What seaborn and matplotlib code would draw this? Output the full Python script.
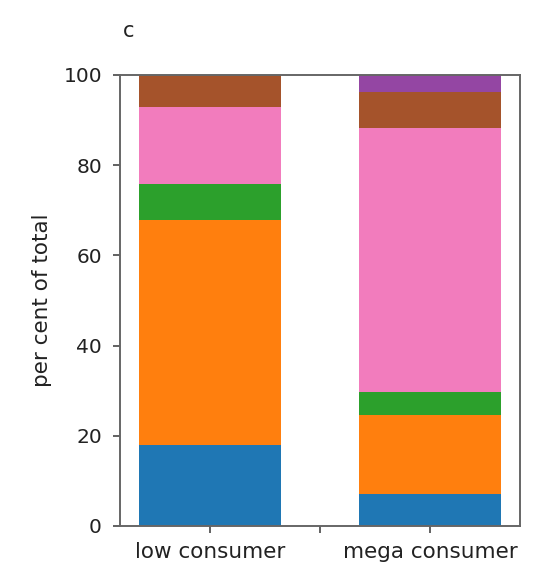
import matplotlib
matplotlib.use("Agg")
import matplotlib.pyplot as plt
import seaborn as sns
import pandas as pd
import numpy as np

# Consumer groups
groups = ["low consumer", "mega consumer"]
tick_labels = ["low consumer", "", "mega consumer"]

# Share of total (per cent) for each component, stacked bottom to top
blue_share   = [18.0, 7.0]
orange_share = [49.8, 17.5]
green_share  = [8.0, 5.3]
pink_share   = [17.2, 58.4]
brown_share  = [7.0, 8.0]
purple_share = [0.0, 3.8]

layers = [blue_share, orange_share, green_share, pink_share, brown_share, purple_share]
layer_colors = ["#1f77b4", "#ff7f0e", "#2ca02c", "#f27cbd", "#a5532b", "#9446a3"]

plt.rcParams["font.family"] = ["DejaVu Sans"]

fig = plt.figure(figsize=(5.49, 5.66), dpi=100)
ax = fig.add_axes([0.2186, 0.0707, 0.7286, 0.7968])

# Draw cumulative totals from the top layer down so each segment shows
cumulative = np.cumsum(np.array(layers), axis=0)
for i in range(len(layers) - 1, -1, -1):
    df = pd.DataFrame({"group": groups, "total": cumulative[i]})
    sns.barplot(data=df, x="group", y="total", order=groups, color=layer_colors[i],
                width=0.645, linewidth=0, saturation=1, ax=ax, errorbar=None)

ax.set_xlim(-0.41, 1.41)
ax.set_ylim(0, 100)
ax.set_xticks([0, 0.5, 1], tick_labels)
ax.set_yticks([0, 20, 40, 60, 80, 100])
ax.set_xlabel("")
ax.set_ylabel("per cent of total", fontsize=15.5, color="#222222", labelpad=8)
ax.tick_params(axis="both", length=5, width=1.3, color="#555555", labelcolor="#222222")
ax.tick_params(axis="x", labelsize=15.5, pad=6.5)
ax.tick_params(axis="y", labelsize=14.5, pad=8)
for s in ax.spines.values():
    s.set_color("#666666")
    s.set_linewidth(1.4)

fig.text(0.223, 0.945, "c", fontsize=15, color="#222222", ha="left", va="center")

fig.savefig("out.png", dpi=100)
